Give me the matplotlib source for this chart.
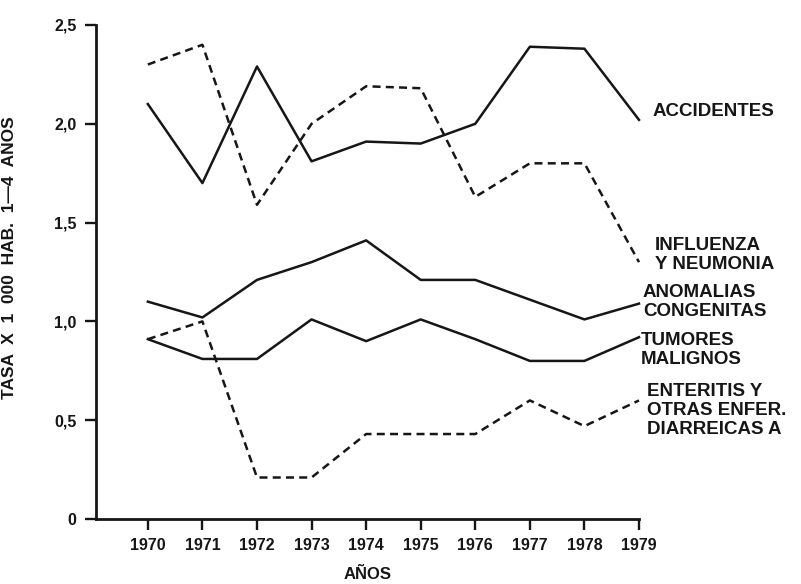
import matplotlib
matplotlib.use("Agg")
import matplotlib.pyplot as plt
from matplotlib.ticker import FixedLocator

plt.rcParams['font.family'] = ['Liberation Sans', 'DejaVu Sans']
plt.rcParams['font.weight'] = 'bold'

years = [1970, 1971, 1972, 1973, 1974, 1975, 1976, 1977, 1978, 1979]
accidentes = [2.10, 1.70, 2.29, 1.81, 1.91, 1.90, 2.00, 2.39, 2.38, 2.02]
influenza = [2.30, 2.40, 1.59, 2.00, 2.19, 2.18, 1.63, 1.80, 1.80, 1.30]
anomalias = [1.10, 1.02, 1.21, 1.30, 1.41, 1.21, 1.21, 1.11, 1.01, 1.09]
tumores = [0.91, 0.81, 0.81, 1.01, 0.90, 1.01, 0.91, 0.80, 0.80, 0.92]
enteritis = [0.91, 1.00, 0.21, 0.21, 0.43, 0.43, 0.43, 0.60, 0.47, 0.60]

y_ticks = [0, 0.5, 1.0, 1.5, 2.0, 2.5]
y_labels = ['0', '0,5', '1,0', '1,5', '2,0', '2,5']

# (values, style, label lines, label x, label y)
series = [
    (accidentes, '-', ['ACCIDENTES'], 1979.24, 2.06),
    (influenza, 'dash', ['INFLUENZA', 'Y NEUMONIA'], 1979.29, 1.335),
    (anomalias, '-', ['ANOMALIAS', 'CONGENITAS'], 1979.07, 1.10),
    (tumores, '-', ['TUMORES', 'MALIGNOS'], 1979.03, 0.855),
    (enteritis, 'dash', ['ENTERITIS Y', 'OTRAS ENFER.', 'DIARREICAS A'], 1979.15, 0.55),
]

ink = '#161616'

fig = plt.figure(figsize=(8.01, 5.84), dpi=100)
ax = fig.add_axes([96 / 801, 65 / 584, (639 - 96) / 801, (519 - 25) / 584])

for values, style, label, xlab, ylab in series:
    if style == 'dash':
        ax.plot(years, values, color=ink, lw=1.8, linestyle=(0, (3.2, 2.1)),
                clip_on=False)
    else:
        ax.plot(years, values, color=ink, lw=1.8, clip_on=False)
    ax.text(xlab, ylab, '\n'.join(label), fontsize=13.5, color=ink,
            va='center', ha='left', linespacing=1.15)

ax.set_xlim(1969.05, 1979)
ax.set_ylim(0, 2.5)
ax.set_xticks(years)
ax.set_xticklabels([str(y) for y in years])
ax.yaxis.set_major_locator(FixedLocator(y_ticks))
ax.set_yticklabels(y_labels)

for side in ['top', 'right']:
    ax.spines[side].set_visible(False)
for side in ['left', 'bottom']:
    ax.spines[side].set_linewidth(2.0)
    ax.spines[side].set_color(ink)

ax.tick_params(axis='both', colors=ink, width=1.7, length=8,
               labelsize=11.5, pad=6)

ax.set_xlabel('AÑOS', fontsize=12, fontweight='bold', color=ink, labelpad=10)
ax.set_ylabel('TASA  X  1  000  HAB.  1—4  AÑOS', fontsize=12.5,
              fontweight='bold', color=ink)
ax.yaxis.set_label_coords(-0.145, 0.528)

fig.savefig('out.png', dpi=100)
